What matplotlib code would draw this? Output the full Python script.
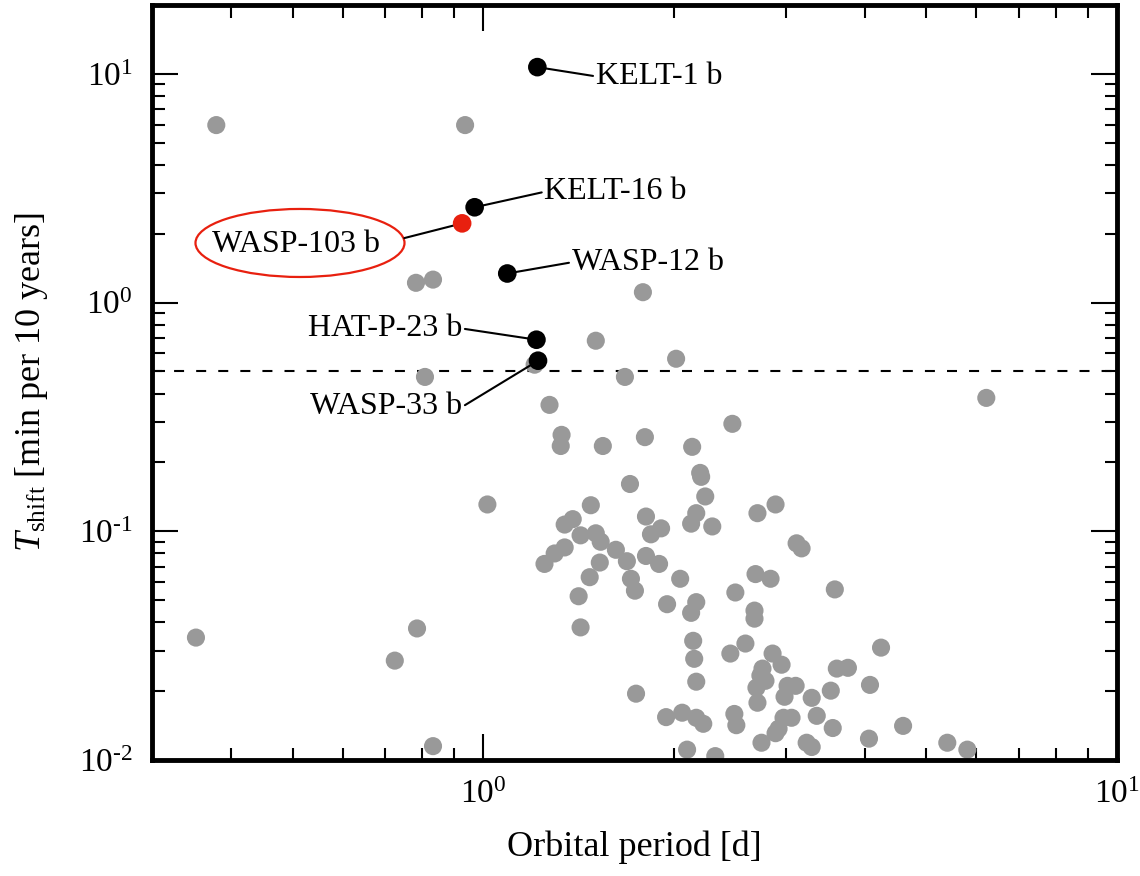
import matplotlib
matplotlib.use("Agg")
import matplotlib.pyplot as plt
from matplotlib.patches import Ellipse
from matplotlib.ticker import LogLocator, NullFormatter, FuncFormatter
import numpy as np

plt.rcParams['font.family'] = ['Liberation Serif', 'DejaVu Serif']
plt.rcParams['mathtext.fontset'] = 'custom'
plt.rcParams['mathtext.rm'] = 'Liberation Serif'
plt.rcParams['mathtext.it'] = 'Liberation Serif:italic'
plt.rcParams['mathtext.bf'] = 'Liberation Serif:bold'

# known hot Jupiters (grey)
period = [0.379, 0.936, 0.783, 0.833, 1.786, 1.505, 2.015, 1.205, 1.673, 0.809,
          6.22, 1.272, 1.329, 1.325, 1.544, 1.799, 2.472, 2.136, 2.199, 2.207,
          2.240, 1.015, 1.704, 1.478, 2.708, 2.892, 2.168, 2.128, 2.298, 1.806,
          1.908, 1.839, 1.384, 1.344, 1.424, 1.505, 1.532, 1.619, 1.685, 1.806,
          1.894, 1.296, 1.344, 1.249, 1.527, 1.472, 1.710, 1.735, 2.045, 1.414,
          1.424, 1.950, 2.168, 2.128, 2.499, 2.689, 2.840, 2.679, 2.679, 2.144,
          2.152, 2.168, 2.454, 2.592, 2.861, 2.956, 2.758, 2.737, 2.788, 2.698,
          2.708, 3.021, 3.111, 2.988, 3.298, 3.613, 3.762, 3.535, 4.243, 4.076,
          3.359, 3.560, 2.977, 3.065, 2.892, 2.924, 2.748, 2.490, 2.508, 2.224,
          3.238, 3.298, 4.061, 4.597, 5.398, 5.806, 2.323, 2.097, 1.943, 2.060,
          2.168, 1.742, 0.786, 0.725, 0.833, 0.352, 3.122, 3.179, 3.587]
tshift = [5.97, 5.97, 1.22, 1.26, 1.11, 0.681, 0.568, 0.535, 0.473, 0.473,
          0.383, 0.357, 0.264, 0.236, 0.236, 0.258, 0.295, 0.234, 0.180, 0.173,
          0.142, 0.131, 0.161, 0.130, 0.120, 0.131, 0.120, 0.108, 0.105, 0.116,
          0.103, 0.097, 0.113, 0.107, 0.096, 0.098, 0.090, 0.083, 0.074, 0.078,
          0.072, 0.080, 0.085, 0.072, 0.073, 0.063, 0.062, 0.055, 0.062, 0.052,
          0.038, 0.048, 0.049, 0.044, 0.054, 0.065, 0.062, 0.045, 0.0415, 0.0332,
          0.0277, 0.0220, 0.0292, 0.0323, 0.0292, 0.0261, 0.0251, 0.0234, 0.0222, 0.0207,
          0.0178, 0.0211, 0.0211, 0.0189, 0.0187, 0.0251, 0.0253, 0.0201, 0.0310, 0.0213,
          0.0156, 0.0138, 0.0153, 0.0153, 0.0131, 0.0137, 0.0119, 0.0159, 0.0142, 0.0144,
          0.0119, 0.0114, 0.0124, 0.0141, 0.0119, 0.0111, 0.0104, 0.0111, 0.0154, 0.0161,
          0.0153, 0.0195, 0.0376, 0.0272, 0.0115, 0.0343, 0.0886, 0.0842, 0.0557]

# highlighted planets
hl_names = ['KELT-1 b', 'KELT-16 b', 'WASP-12 b', 'HAT-P-23 b', 'WASP-33 b']
hl_period = [1.217, 0.969, 1.091, 1.213, 1.220]
hl_tshift = [10.7, 2.61, 1.34, 0.688, 0.557]
# label positions (data coords) and alignment
hl_text_xy = [(1.505, 9.75), (1.249, 3.05), (1.379, 1.50), (0.926, 0.77), (0.926, 0.35)]
hl_ha = ['left', 'left', 'left', 'right', 'right']

target_name = 'WASP-103 b'
target_period = 0.926
target_tshift = 2.22

threshold = 0.5

fig = plt.figure(figsize=(11.4, 8.76), dpi=100)
ax = fig.add_axes([0.1333, 0.1324, 0.8465, 0.8619])
ax.set_xscale('log')
ax.set_yscale('log')
ax.set_xlim(0.3, 10)
ax.set_ylim(0.01, 20)

ax.axhline(threshold, color='black', lw=1.5, ls=(0, (4.8, 5.8)), zorder=1)

ax.scatter(period, tshift, s=170, color='#999999', edgecolors='none', zorder=2)
ax.scatter(hl_period, hl_tshift, s=180, color='black', edgecolors='none', zorder=4)
ax.scatter([target_period], [target_tshift], s=180, color='#e8200f', edgecolors='none', zorder=4)

for name, px, py, txy, ha in zip(hl_names, hl_period, hl_tshift, hl_text_xy, hl_ha):
    rel = (0, 0.5) if ha == 'left' else (1, 0.5)
    ax.annotate(name, xy=(px, py), xytext=txy, ha=ha, va='center', fontsize=23,
                arrowprops=dict(arrowstyle='-', color='black', lw=1.5,
                                shrinkA=0, shrinkB=0, relpos=rel), zorder=3)

ell = Ellipse((0.1534, 0.6848), 0.2166, 0.0901, transform=ax.transAxes,
              fill=False, ec='#e8200f', lw=1.6, zorder=3)
ax.add_patch(ell)
ax.annotate(target_name, xy=(target_period, target_tshift), xytext=(0.507, 1.80),
            ha='center', va='center', fontsize=23,
            arrowprops=dict(arrowstyle='-', color='black', lw=1.5, patchA=ell,
                            shrinkA=0, shrinkB=0, relpos=(1, 0.5)), zorder=3)


def pow10(v, pos):
    e = int(round(np.log10(v)))
    s = str(e).replace('-', '\u2010')
    return '$10^{%s}$' % s


for axis in (ax.xaxis, ax.yaxis):
    axis.set_major_locator(LogLocator(base=10, numticks=10))
    axis.set_major_formatter(FuncFormatter(pow10))
    axis.set_minor_locator(LogLocator(base=10, subs=range(2, 10), numticks=20))
    axis.set_minor_formatter(NullFormatter())

ax.tick_params(which='both', direction='in', top=True, right=True, labelsize=24, pad=14)
ax.tick_params(which='major', length=19, width=1.5)
ax.tick_params(which='minor', length=9, width=1.5)
for sp in ax.spines.values():
    sp.set_linewidth(3.5)

ax.set_xlabel('Orbital period [d]', fontsize=26)
ax.set_ylabel(r'$T_{\mathrm{shift}}$ [min per 10 years]', fontsize=26)
ax.xaxis.set_label_coords(0.5, -0.094)
ax.yaxis.set_label_coords(-0.106, 0.5)

fig.savefig('out.png', dpi=100)
